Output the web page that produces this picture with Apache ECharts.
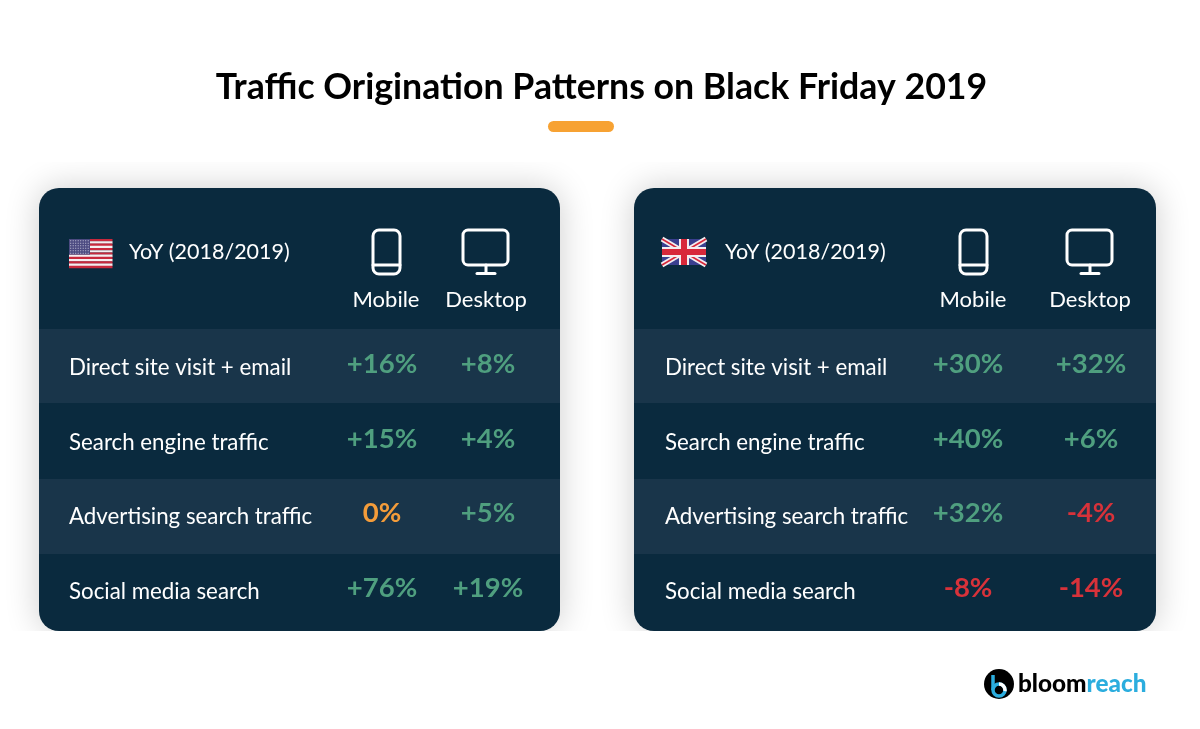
<!DOCTYPE html>
<html>
<head>
<meta charset="utf-8">
<script src="https://cdn.jsdelivr.net/npm/echarts@6/dist/echarts.min.js"></script>
<style>
html, body { margin: 0; padding: 0; background: #fff; }
#chart { width: 1200px; height: 729px; }
</style>
</head>
<body>
<div id="chart"></div>
<script>
var chart = echarts.init(document.getElementById("chart"))

var fontName = "Lato"
var cardColor = "#0a2a3e"
var bandColor = "#19354a"
var rowNames = ["Direct site visit + email", "Search engine traffic", "Advertising search traffic", "Social media search"]
var columns = ["Mobile", "Desktop"]

// values per row: [mobile, desktop]
var panels = [
    {
        card: [39, 521],
        grid: {left: 336, width: 200},
        labelMargin: 267,
        phoneX: 372,
        monitorX: 462,
        yoyX: 129,
        shift: [-4, 2],
        values: [[16, 8], [15, 4], [0, 5], [76, 19]]
    },
    {
        card: [634, 522],
        grid: {left: 914.5, width: 234},
        labelMargin: 249.5,
        phoneX: 959,
        monitorX: 1066,
        yoyX: 725,
        shift: [-5, 1],
        values: [[30, 32], [40, 6], [32, -4], [-8, -14]]
    }
]

function valueColor(v) {
    if (v > 0) return "#4f9f7f"
    if (v < 0) return "#d8323a"
    return "#f39c3a"
}

function rect(x, y, w, h, fill, extra) {
    var el = {type: "rect", shape: {x: x, y: y, width: w, height: h}, style: {fill: fill}}
    if (extra) el.shape.r = extra
    return el
}

function usFlag() {
    var items = []
    var x = 69, y = 239, w = 43.5, h = 29
    for (var i = 0; i < 13; i++) {
        items.push(rect(x, y + i * h / 13, w, h / 13 + 0.2, i % 2 ? "#f4eef0" : "#c8283c"))
    }
    items.push(rect(x, y, 21, 15.6, "#4b4a80"))
    for (var r = 0; r < 6; r++) {
        for (var c = 0; c < 8; c++) {
            items.push(rect(x + 1.2 + c * 2.5, y + 1.2 + r * 2.5, 1, 1, "#c9c8dd"))
        }
    }
    return items
}

function ukFlag() {
    var x = 662, y = 239, w = 44, h = 26, r = x + w, b = y + h
    var cx = x + w / 2, cy = y + h / 2
    return [
        rect(x, y, w, h, "#3a3f8f"),
        {type: "line", shape: {x1: x, y1: y, x2: r, y2: b}, style: {stroke: "#f4eef0", lineWidth: 5}},
        {type: "line", shape: {x1: r, y1: y, x2: x, y2: b}, style: {stroke: "#f4eef0", lineWidth: 5}},
        {type: "line", shape: {x1: x, y1: y, x2: r, y2: b}, style: {stroke: "#d8283a", lineWidth: 1.6}},
        {type: "line", shape: {x1: r, y1: y, x2: x, y2: b}, style: {stroke: "#d8283a", lineWidth: 1.6}},
        rect(cx - 5, y, 10, h, "#f4eef0"),
        rect(x, cy - 5, w, 10, "#f4eef0"),
        rect(cx - 3, y, 6, h, "#d8283a"),
        rect(x, cy - 3, w, 6, "#d8283a")
    ]
}

function deviceIcons(p) {
    var line = {stroke: "#fff", lineWidth: 3, fill: "none", lineCap: "round"}
    var mx = p.monitorX
    return [
        {type: "rect", shape: {x: p.phoneX + 1, y: 230, width: 27, height: 44, r: 6}, style: line},
        {type: "line", shape: {x1: p.phoneX + 1, y1: 265, x2: p.phoneX + 28, y2: 265}, style: line},
        {type: "rect", shape: {x: mx + 1, y: 230, width: 45, height: 35, r: 5}, style: line},
        {type: "line", shape: {x1: mx + 24, y1: 265, x2: mx + 24, y2: 273}, style: line},
        {type: "line", shape: {x1: mx + 15, y1: 273.5, x2: mx + 33, y2: 273.5}, style: line}
    ]
}

var graphics = []

panels.forEach(function(p) {
    graphics.push({
        type: "rect",
        shape: {x: p.card[0], y: 188, width: p.card[1], height: 443, r: 20},
        style: {fill: cardColor, shadowColor: "rgba(0,0,0,0.2)", shadowBlur: 34}
    })
})
// the card shadows are cut off above and below the card block
graphics.push(rect(0, 0, 1200, 162, "#fff"))
graphics.push(rect(0, 631, 1200, 98, "#fff"))

panels.forEach(function(p) {
    graphics.push(rect(p.card[0], 329, p.card[1], 74, bandColor))
    graphics.push(rect(p.card[0], 479, p.card[1], 75, bandColor))
    graphics.push({
        type: "text", x: p.yoyX, y: 252,
        style: {text: "YoY (2018/2019)", fill: "#fff", font: "21.5px " + fontName, textVerticalAlign: "middle"}
    })
    graphics = graphics.concat(deviceIcons(p))
})
graphics = graphics.concat(usFlag(), ukFlag())

graphics.push(
    {
        type: "text", x: 601.5, y: 87,
        style: {text: "Traffic Origination Patterns on Black Friday 2019", fill: "#000", font: "700 35.7px " + fontName, textAlign: "center", textVerticalAlign: "middle"}
    },
    rect(548, 121, 66, 11, "#f7a233", 5.5),
    // logo
    {type: "circle", shape: {cx: 999, cy: 684, r: 15}, style: {fill: "#000"}},
    {type: "line", shape: {x1: 993, y1: 675, x2: 993, y2: 690}, style: {stroke: "#2badde", lineWidth: 3.5}},
    {type: "circle", shape: {cx: 999, cy: 690, r: 6}, style: {stroke: "#2badde", lineWidth: 3.5, fill: "#000"}},
    {type: "arc", shape: {cx: 999, cy: 690, r: 6, startAngle: -Math.PI / 2, endAngle: 0.2, clockwise: true}, style: {stroke: "#fff", lineWidth: 3.5, fill: "none"}},
    {
        type: "text", x: 1018, y: 684,
        style: {
            text: "{a|bloom}{b|reach}",
            textVerticalAlign: "middle",
            rich: {
                a: {fill: "#000", font: "900 24.3px " + fontName},
                b: {fill: "#2badde", font: "900 24.3px " + fontName}
            }
        }
    }
)

var grids = [], xAxes = [], yAxes = [], series = []
panels.forEach(function(p, idx) {
    grids.push({left: p.grid.left, width: p.grid.width, top: 331, height: 298})
    xAxes.push({
        gridIndex: idx,
        type: "category",
        position: "top",
        z: 5,
        data: columns,
        axisLine: {show: false},
        axisTick: {show: false},
        splitLine: {show: false},
        axisLabel: {color: "#fff", fontSize: 22, fontFamily: fontName, margin: 20, interval: 0}
    })
    yAxes.push({
        gridIndex: idx,
        type: "category",
        inverse: true,
        z: 5,
        data: rowNames,
        axisLine: {show: false},
        axisTick: {show: false},
        splitLine: {show: false},
        axisLabel: {color: "#fff", fontSize: 22.3, fontFamily: fontName, align: "left", margin: p.labelMargin, interval: 0}
    })
    var points = []
    p.values.forEach(function(row, r) {
        row.forEach(function(v, c) {
            points.push({
                value: [c, r, v],
                label: {color: valueColor(v), offset: [p.shift[c], -4]}
            })
        })
    })
    series.push({
        type: "scatter",
        xAxisIndex: idx,
        yAxisIndex: idx,
        symbolSize: 1,
        itemStyle: {color: "transparent", opacity: 1},
        z: 10,
        data: points,
        label: {
            show: true,
            position: "inside",
            fontSize: 27.5,
            fontWeight: 700,
            fontFamily: fontName,
            formatter: function(item) {
                var v = item.value[2]
                return (v > 0 ? "+" : "") + v + "%"
            }
        }
    })
})

chart.setOption({
    animation: false,
    backgroundColor: "#fff",
    graphic: {elements: graphics},
    grid: grids,
    xAxis: xAxes,
    yAxis: yAxes,
    series: series
})
</script>
</body>
</html>
